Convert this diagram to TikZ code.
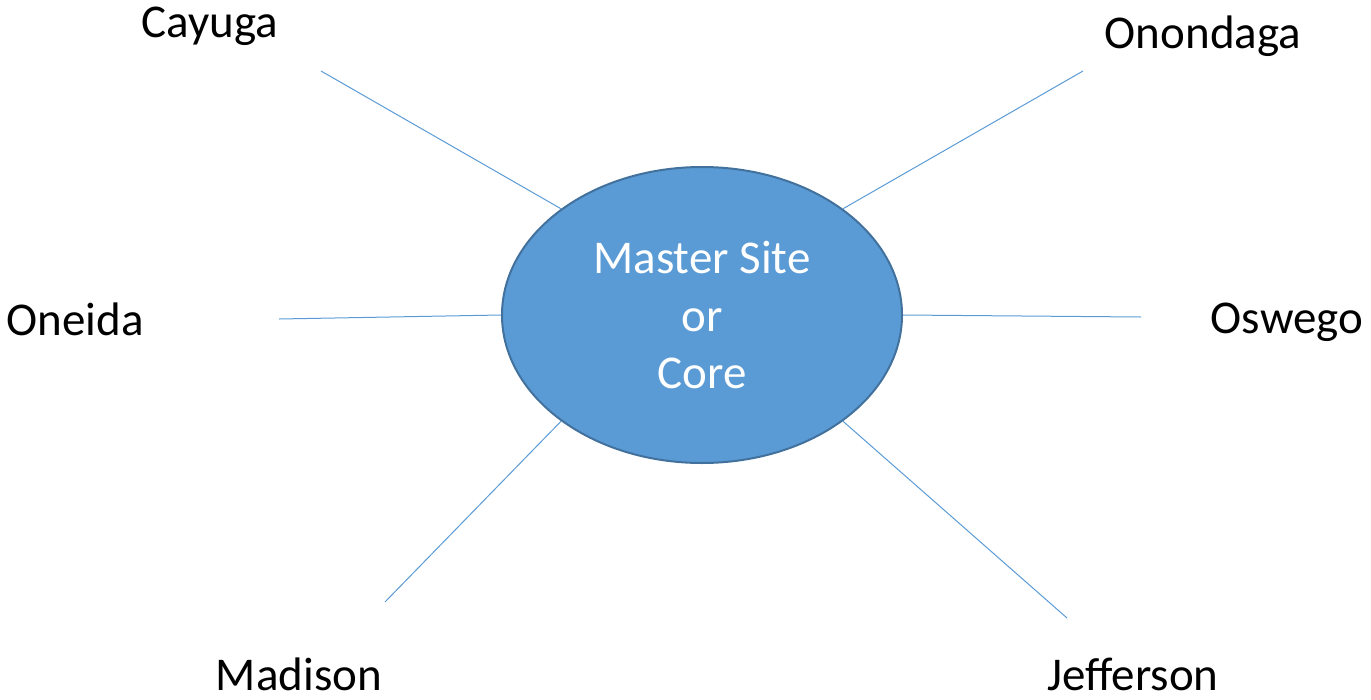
\documentclass[tikz,border=0pt]{standalone}
\usepackage{fontspec}
\setmainfont{Carlito}
\usepackage{tikz}
\usepackage{xcolor}
\usetikzlibrary{shapes.geometric}
\definecolor{coreblue}{HTML}{5B9BD5}
\definecolor{coreedge}{HTML}{41719C}

\begin{document}
\begin{tikzpicture}[x=1pt,y=-1pt,
    site/.style={anchor=base,font=\fontsize{47}{57.5}\selectfont,text=black},
    spoke/.style={draw=coreblue,line width=1pt}]
                \useasboundingbox (0,0) rectangle (1371,699);
                % the hub in the middle
                \node[ellipse,draw=coreedge,line width=2pt,fill=coreblue,
                      minimum width=400pt,minimum height=296pt,inner sep=0pt,
                      align=center,text=white,font=\fontsize{47}{57.5}\selectfont]
                      (core) at (702,315) {Master Site\\or\\Core};
                % the six counties round it
                \node[site] (cayuga) at (210,37) {Cayuga};
                \node[site] (onondaga) at (1203,48) {Onondaga};
                \node[site] (oneida) at (75,335) {Oneida};
                \node[site] (oswego) at (1287,333) {Oswego};
                \node[site] (madison) at (299,690) {Madison};
                \node[site] (jefferson) at (1133,690) {Jefferson};
                % free ends of the spokes
                \coordinate (cayugaEnd) at (321,71);
                \coordinate (onondagaEnd) at (1083,71);
                \coordinate (oneidaEnd) at (279,319);
                \coordinate (oswegoEnd) at (1141,317);
                \coordinate (madisonEnd) at (385,602);
                \coordinate (jeffersonEnd) at (1067,618);
                \draw[spoke] (core.143) -- (cayugaEnd);
                \draw[spoke] (core.37) -- (onondagaEnd);
                \draw[spoke] (core.180) -- (oneidaEnd);
                \draw[spoke] (core.0) -- (oswegoEnd);
                \draw[spoke] (core.217) -- (madisonEnd);
                \draw[spoke] (core.323) -- (jeffersonEnd);
            \end{tikzpicture}
\end{document}
